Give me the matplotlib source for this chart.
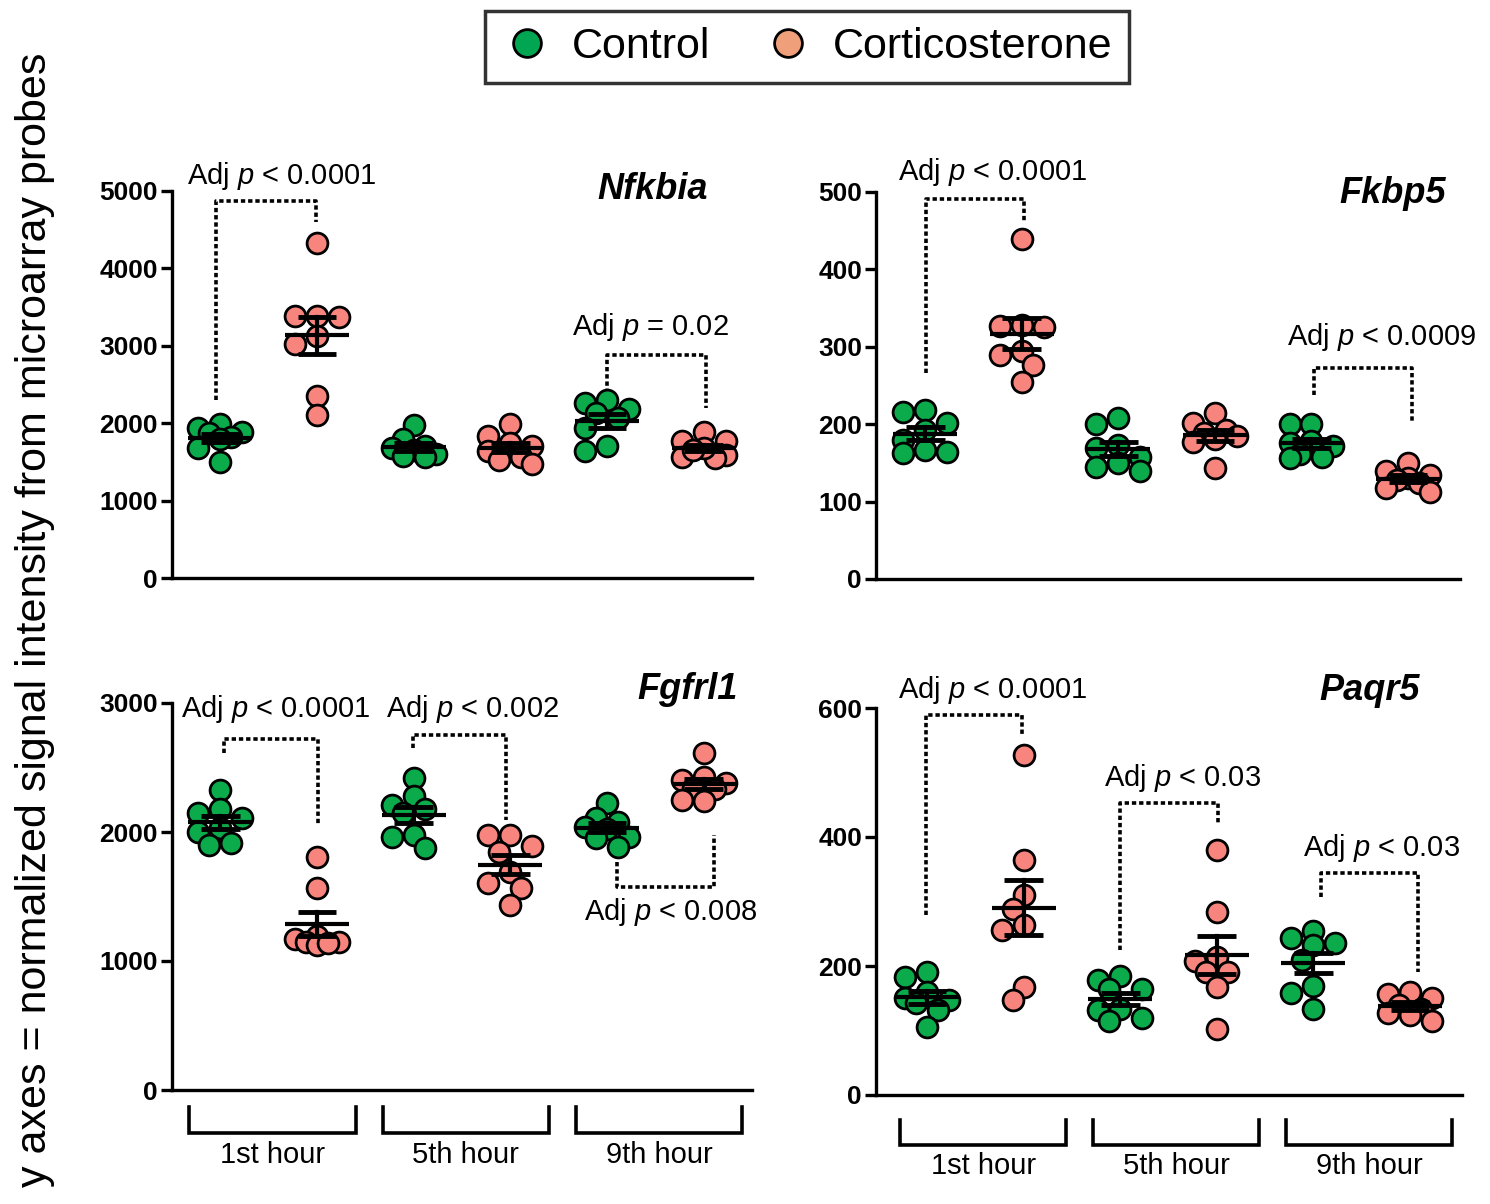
import numpy as np
import matplotlib
matplotlib.use("Agg")
import matplotlib.pyplot as plt
from matplotlib.lines import Line2D
import matplotlib.transforms as mtransforms

plt.rcParams['font.family'] = ['Liberation Sans', 'DejaVu Sans']
plt.rcParams['mathtext.fontset'] = 'custom'
plt.rcParams['mathtext.it'] = 'Liberation Sans:italic'
plt.rcParams['mathtext.rm'] = 'Liberation Sans'

# group order: ctrl 1h, cort 1h, ctrl 5h, cort 5h, ctrl 9h, cort 9h
hours = ["1st hour", "5th hour", "9th hour"]
genes = ["Nfkbia", "Fkbp5", "Fgfrl1", "Paqr5"]

nfkbia = [
    [1990, 1934, 1890, 1869, 1818, 1792, 1675, 1494],
    [4332, 3390, 3370, 3380, 3127, 3023, 2351, 2106],
    [1977, 1790, 1700, 1680, 1650, 1600, 1580, 1560],
    [1990, 1830, 1750, 1700, 1640, 1560, 1530, 1470],
    [2300, 2183, 2260, 2132, 2067, 1938, 1641, 1705],
    [1886, 1770, 1770, 1590, 1563, 1550, 1680, 1650],
]
fkbp5 = [
    [216, 218, 202, 192, 180, 167, 163, 164],
    [439, 328, 326, 327, 294, 289, 276, 255],
    [200, 208, 173, 169, 158, 150, 145, 139],
    [214, 202, 193, 189, 185, 181, 177, 143],
    [200, 200, 178, 176, 172, 162, 158, 156],
    [150, 140, 135, 130, 128, 124, 118, 112],
]
fgfrl1 = [
    [2326, 2145, 2176, 2106, 2029, 2003, 1899, 1912],
    [1809, 1564, 1190, 1170, 1150, 1150, 1124, 1140],
    [2416, 2279, 2176, 2209, 2145, 1977, 1964, 1874],
    [1977, 1977, 1891, 1847, 1692, 1602, 1564, 1434],
    [2222, 2106, 2080, 2041, 2020, 1964, 1951, 1886],
    [2610, 2430, 2400, 2380, 2340, 2330, 2240, 2250],
]
paqr5 = [
    [191, 183, 160, 150, 147, 142, 132, 106],
    [527, 364, 310, 289, 264, 256, 168, 147],
    [184, 178, 165, 164, 132, 133, 114, 119],
    [380, 284, 214, 207, 191, 191, 168, 103],
    [255, 243, 233, 236, 209, 169, 158, 134],
    [159, 157, 150, 140, 134, 127, 124, 114],
]

# significance brackets: x_left, x_right, y_left, y_bar, y_right, label, text_x, text_y
ann_nfkbia = [(0.95, 1.99, 2300, 4871, 4600, "< 0.0001", 1.63, 5194),
              (5.0, 6.02, 2390, 2881, 2196, "= 0.02", 5.45, 3243)]
ann_fkbp5 = [(1.01, 2.02, 266, 491, 460, "< 0.0001", 1.70, 526),
             (5.03, 6.04, 238, 273, 203, "< 0.0009", 5.73, 313)]
ann_fgfrl1 = [(1.04, 2.01, 2612, 2719, 2054, "< 0.0001", 1.57, 2953),
              (2.99, 3.96, 2651, 2752, 2093, "< 0.002", 3.61, 2953),
              (5.10, 6.11, 1770, 1576, 1977, "< 0.008", 5.66, 1380)]
ann_paqr5 = [(0.99, 1.98, 279, 589, 558, "< 0.0001", 1.68, 628),
             (3.0, 4.01, 225, 452, 422, "< 0.03", 3.64, 491),
             (5.08, 6.08, 307, 344, 191, "< 0.03", 5.71, 383)]

C_CTRL = '#0BAA4A'
C_CORT = '#F7857E'


def swarm(ax, x0, vals, diam=21.0):
    # compact Prism-like scatter: half-diameter steps, overlap allowed
    tr = ax.transData
    ppu = tr.transform((1, 0))[0] - tr.transform((0, 0))[0]
    ys = [tr.transform((0, v))[1] for v in vals]
    offs = np.zeros(len(vals))
    placed = []
    for i in np.argsort(vals)[::-1]:
        best, best_d = 0.0, -1
        for k in [0, -1, 1, -2, 2]:
            dx = k * diam * 0.52
            d = min([np.hypot(dx - px, ys[i] - py) for px, py in placed] or [1e9])
            if d >= 0.8 * diam:
                best = dx
                break
            if d > best_d:
                best, best_d = dx, d
        placed.append((best, ys[i]))
        offs[i] = best / ppu
    return x0 + offs


def panel(rect, data, ylim, yticks, xlim, gene, gene_pos, anns, bpos):
    ax = fig.add_axes(rect)
    ax.set_xlim(*xlim)
    ax.set_ylim(*ylim)
    for s in ['top', 'right']:
        ax.spines[s].set_visible(False)
    for s in ['left', 'bottom']:
        ax.spines[s].set_linewidth(2.4)
    ax.set_xticks([])
    ax.set_yticks(yticks)
    ax.tick_params(axis='y', length=8, width=2.4, pad=2, labelsize=19)
    for t in ax.get_yticklabels():
        t.set_fontweight('bold')

    for g, vals in enumerate(data):
        vals = np.array(vals, dtype=float)
        x0 = g + 1
        col = C_CTRL if g % 2 == 0 else C_CORT
        xs = swarm(ax, x0, vals)
        ax.scatter(xs, vals, s=15 ** 2, c=col, edgecolors='black', linewidths=2.0, zorder=3, clip_on=False)
        m = vals.mean()
        se = vals.std(ddof=1) / np.sqrt(len(vals))
        ax.plot([x0 - 0.33, x0 + 0.33], [m, m], color='black', lw=3, zorder=4, solid_capstyle='butt')
        ax.plot([x0, x0], [m - se, m + se], color='black', lw=3, zorder=4)
        for yy in (m - se, m + se):
            ax.plot([x0 - 0.2, x0 + 0.2], [yy, yy], color='black', lw=3.5, zorder=4, solid_capstyle='butt')

    for xl, xr, yl, yb, yr, lab, tx, ty in anns:
        ax.plot([xl, xl, xr, xr], [yl, yb, yb, yr], color='black', lw=2.6,
                linestyle=(0, (1.2, 0.8)), clip_on=False, zorder=2)
        ax.text(tx, ty, r"Adj $p$ " + lab, ha='center', va='center', fontsize=21, clip_on=False)

    ax.text(gene_pos[0], gene_pos[1], gene, transform=ax.transAxes, ha='right', va='center',
            fontsize=26, fontweight='bold', fontstyle='italic')

    if bpos is not None:
        tr = mtransforms.blended_transform_factory(ax.transData, ax.transAxes)
        y_top, y_bot, y_lab, shift = bpos
        for h, name in enumerate(hours):
            c = 1.5 + 2 * h + shift
            ax.plot([c - 0.86, c - 0.86, c + 0.86, c + 0.86], [y_top, y_bot, y_bot, y_top],
                    color='black', lw=2.6, transform=tr, clip_on=False, solid_joinstyle='miter')
            ax.text(c, y_lab, name, transform=tr, ha='center', va='center', fontsize=21)
    return ax


fig = plt.figure(figsize=(14.9, 12.04), dpi=100)

H = 387 / 1204
panel([172 / 1490, 1 - 578 / 1204, 580 / 1490, H], nfkbia, (0, 5000), range(0, 5001, 1000),
      (0.5, 6.5), genes[0], (0.924, 1.003), ann_nfkbia, None)
panel([876 / 1490, 1 - 579 / 1204, 584 / 1490, H], fkbp5, (0, 500), range(0, 501, 100),
      (0.49, 6.54), genes[1], (0.976, 0.997), ann_fkbp5, None)
panel([172 / 1490, 1 - 1090 / 1204, 580 / 1490, H], fgfrl1, (0, 3000), range(0, 3001, 1000),
      (0.5, 6.5), genes[2], (0.976, 1.036), ann_fgfrl1, (-0.044, -0.111, -0.168, 0.04))
panel([876 / 1490, 1 - 1095 / 1204, 586 / 1490, H], paqr5, (0, 600), range(0, 601, 200),
      (0.47, 6.54), genes[3], (0.928, 1.044), ann_paqr5, (-0.065, -0.129, -0.183, 0.08))

fig.text(35 / 1490, 1 - 620 / 1204, "y axes = normalized signal intensity from microarray probes",
         rotation=90, ha='center', va='center', fontsize=31)

handles = [Line2D([], [], marker='o', ls='', markersize=20, markerfacecolor='#00A651',
                  markeredgecolor='black', markeredgewidth=2),
           Line2D([], [], marker='o', ls='', markersize=20, markerfacecolor='#EFA07A',
                  markeredgecolor='black', markeredgewidth=2)]
leg = fig.legend(handles, ["Control", "Corticosterone"], loc='center', ncol=2,
                 bbox_to_anchor=(807 / 1490, 1 - 47 / 1204), fontsize=31, frameon=True,
                 fancybox=False, edgecolor='black', handletextpad=0.45, columnspacing=1.2,
                 borderpad=0.38, handlelength=1.2)
leg.get_frame().set_linewidth(2.5)

fig.savefig("out.png", dpi=100)
